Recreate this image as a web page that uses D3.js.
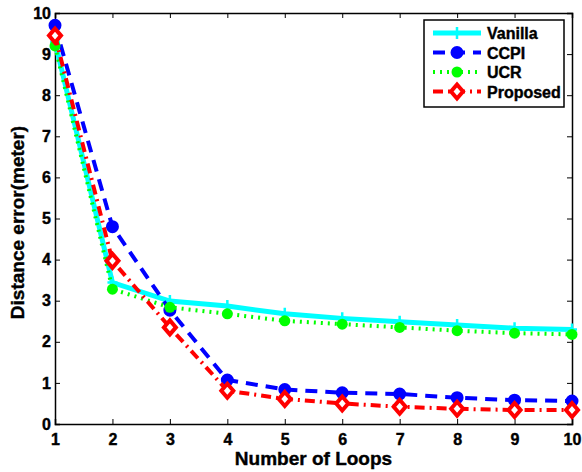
<!DOCTYPE html>
<html>
<head>
<meta charset="utf-8">
<script src="https://cdn.jsdelivr.net/npm/d3@7"></script>
<style>
  body { margin: 0; background: #fff; }
  text { font-family: "Liberation Sans", Arial, sans-serif; font-weight: bold; stroke: #000; stroke-width: 0.4px; }
</style>
</head>
<body>
<svg id="chart" width="582" height="472"></svg>
<script>
const loops = [1, 2, 3, 4, 5, 6, 7, 8, 9, 10];
const vanilla = [9.3, 3.44, 2.99, 2.87, 2.68, 2.57, 2.49, 2.41, 2.33, 2.30];
const ccpi = [9.7, 4.8, 2.77, 1.07, 0.84, 0.76, 0.73, 0.64, 0.58, 0.56];
const ucr = [9.2, 3.28, 2.84, 2.68, 2.51, 2.43, 2.35, 2.27, 2.21, 2.18];
const proposed = [9.45, 3.97, 2.35, 0.81, 0.61, 0.50, 0.42, 0.37, 0.34, 0.34];
const yTicks = [0, 1, 2, 3, 4, 5, 6, 7, 8, 9, 10];

const series = [
  { name: 'Vanilla', values: vanilla, color: '#00ffff', dash: null, marker: 'plus', lw: 5 },
  { name: 'CCPI', values: ccpi, color: '#0000ff', dash: '12,8', marker: 'circle', lw: 4 },
  { name: 'UCR', values: ucr, color: '#00ff00', dash: '2,5', marker: 'dot', lw: 4 },
  { name: 'Proposed', values: proposed, color: '#ff0000', dash: '10,5,2,5', marker: 'diamond', lw: 4 },
];

const margin = { left: 55, top: 13, right: 10, bottom: 48 };
const width = 582 - margin.left - margin.right;
const height = 472 - margin.top - margin.bottom;

const svg = d3.select('#chart');
const g = svg.append('g').attr('transform', `translate(${margin.left},${margin.top})`);

const x = d3.scaleLinear().domain([1, 10]).range([0, width]);
const y = d3.scaleLinear().domain([0, 10]).range([height, 0]);

// axes, ticks pointing inward like matlab
g.append('g').attr('transform', `translate(0,${height})`)
  .call(d3.axisBottom(x).tickValues(loops).tickSize(-5).tickPadding(10).tickFormat(d3.format('d')));
g.append('g')
  .call(d3.axisLeft(y).tickValues(yTicks).tickSize(-5).tickPadding(4).tickFormat(d3.format('d')));
g.append('g').call(d3.axisTop(x).tickValues(loops).tickSize(-5).tickFormat(''));
g.append('g').attr('transform', `translate(${width},0)`)
  .call(d3.axisRight(y).tickValues(yTicks).tickSize(-5).tickFormat(''));

g.selectAll('.domain').attr('stroke', '#000').attr('stroke-width', 1.5);
g.selectAll('.tick line').attr('stroke', '#000');
g.selectAll('.tick text').attr('font-size', 16).attr('fill', '#000');

const line = d3.line().x((d, i) => x(loops[i])).y(d => y(d));

function drawMarker(sel, type, color) {
  if (type === 'plus') {
    sel.append('path').attr('d', 'M-5,0H5M0,-6V6')
      .attr('stroke', color).attr('stroke-width', 2.5).attr('fill', 'none');
  } else if (type === 'circle') {
    sel.append('circle').attr('r', 5.5).attr('fill', color)
      .attr('stroke', color).attr('stroke-width', 2);
  } else if (type === 'dot') {
    sel.append('circle').attr('r', 5.5).attr('fill', color);
  } else if (type === 'diamond') {
    sel.append('path').attr('d', 'M0,-7L6,0L0,7L-6,0Z')
      .attr('fill', '#fff').attr('stroke', color).attr('stroke-width', 4);
  }
}

series.forEach(s => {
  g.append('path').datum(s.values)
    .attr('d', line)
    .attr('fill', 'none')
    .attr('stroke', s.color)
    .attr('stroke-width', s.lw)
    .attr('stroke-dasharray', s.dash);
  s.values.forEach((v, i) => {
    const m = g.append('g').attr('transform', `translate(${x(loops[i])},${y(v)})`);
    drawMarker(m, s.marker, s.color);
  });
});

// axis titles
svg.append('text')
  .attr('x', margin.left + width / 2).attr('y', 465)
  .attr('text-anchor', 'middle').attr('font-size', 19)
  .text('Number of Loops');
svg.append('text')
  .attr('transform', `translate(24,${margin.top + height / 2 + 4}) rotate(-90)`)
  .attr('text-anchor', 'middle').attr('font-size', 19)
  .text('Distance error(meter)');

// legend
const legend = svg.append('g').attr('transform', 'translate(424,20)');
legend.append('rect').attr('width', 140).attr('height', 87)
  .attr('fill', '#fff').attr('stroke', '#000').attr('stroke-width', 1.5);
series.forEach((s, i) => {
  const row = legend.append('g').attr('transform', `translate(0,${13 + i * 19.5})`);
  row.append('line').attr('x1', 9).attr('x2', 57)
    .attr('stroke', s.color).attr('stroke-width', s.lw)
    .attr('stroke-dasharray', s.dash);
  const m = row.append('g').attr('transform', 'translate(33,0)');
  drawMarker(m, s.marker, s.color);
  row.append('text').attr('x', 63).attr('y', 6).attr('font-size', 16).text(s.name);
});
</script>
</body>
</html>
